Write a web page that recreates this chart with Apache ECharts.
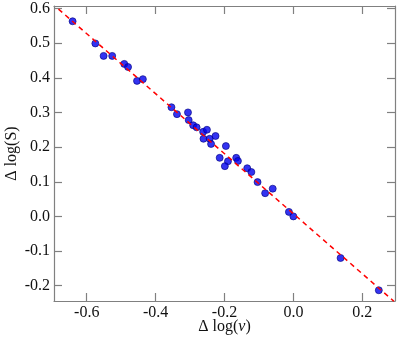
<!DOCTYPE html>
<html>
<head>
<meta charset="utf-8">
<script src="https://cdn.jsdelivr.net/npm/echarts@6/dist/echarts.min.js"></script>
<style>
  html, body { margin: 0; padding: 0; background: #fff; }
  #main { width: 399px; height: 338px; }
</style>
</head>
<body>
<div id="main"></div>
<script>
// 数据点 (Δlog ν, Δlog S)
const dLogNu = [-0.641, -0.575, -0.551, -0.526, -0.491, -0.480, -0.454, -0.437,
  -0.354, -0.338, -0.306, -0.304, -0.291, -0.281, -0.262, -0.251, -0.261, -0.243,
  -0.226, -0.239, -0.196, -0.214, -0.166, -0.161, -0.190, -0.199, -0.134, -0.122,
  -0.104, -0.082, -0.060, -0.013, 0.000, 0.137, 0.248]
const dLogS = [0.563, 0.499, 0.463, 0.463, 0.440, 0.431, 0.391, 0.396,
  0.315, 0.295, 0.300, 0.278, 0.263, 0.257, 0.244, 0.250, 0.224, 0.224,
  0.232, 0.209, 0.203, 0.169, 0.169, 0.160, 0.159, 0.145, 0.139, 0.128,
  0.099, 0.067, 0.080, 0.013, 0.000, -0.120, -0.213]
// 拟合直线两端
const fitX = [-0.682, 0.292]
const fitY = [0.598, -0.245]
// 刻度
const xTicks = [-0.6, -0.4, -0.2, 0.0, 0.2]
const yTicks = [-0.2, -0.1, 0.0, 0.1, 0.2, 0.3, 0.4, 0.5, 0.6]

const dom = document.querySelector('#main')
const myChart = echarts.init(dom)

const font = 'Liberation Serif'
const frame = '#808080'

function makeAxis(pos, min, max, ticks, showLabel, extra) {
  return Object.assign({
    type: 'value',
    position: pos,
    min: min,
    max: max,
    axisLine: { show: true, onZero: false, lineStyle: { color: frame, width: 1.2 } },
    axisTick: { show: true, inside: true, length: 8, customValues: ticks, lineStyle: { color: frame, width: 1.2 } },
    axisLabel: {
      show: showLabel,
      customValues: ticks,
      color: '#111',
      fontFamily: font,
      fontSize: 16,
      margin: 4,
      formatter: v => v.toFixed(1)
    },
    splitLine: { show: false }
  }, extra || {})
}

const option = {
  animation: false,
  grid: { left: 54, top: 6, right: 4, bottom: 37, containLabel: false, outerBoundsMode: 'none' },
  xAxis: [
    makeAxis('bottom', -0.695, 0.295, xTicks, true, {
      name: 'Δ log({i|ν})',
      nameLocation: 'middle',
      nameGap: 18,
      nameMoveOverlap: false,
      nameTextStyle: {
        color: '#111', fontFamily: font, fontSize: 16,
        rich: { i: { fontStyle: 'italic', fontFamily: font, fontSize: 16, color: '#111' } }
      }
    }),
    makeAxis('top', -0.695, 0.295, xTicks, false)
  ],
  yAxis: [
    makeAxis('left', -0.244, 0.607, yTicks, true, {
      name: 'Δ log(S)',
      nameLocation: 'middle',
      nameGap: 34,
      nameMoveOverlap: false,
      nameTextStyle: { color: '#111', fontFamily: font, fontSize: 16 }
    }),
    makeAxis('right', -0.244, 0.607, yTicks, false)
  ],
  series: [
    {
      type: 'scatter',
      data: dLogNu.map((x, i) => [x, dLogS[i]]),
      symbolSize: 7,
      itemStyle: { color: '#0000ee', borderColor: '#000080', borderWidth: 0.8 },
      z: 2
    },
    {
      type: 'line',
      data: fitX.map((x, i) => [x, fitY[i]]),
      showSymbol: false,
      symbol: 'none',
      lineStyle: { color: '#ff0000', width: 1.5, type: [5, 4] },
      z: 3
    }
  ]
}

myChart.setOption(option)
</script>
</body>
</html>
